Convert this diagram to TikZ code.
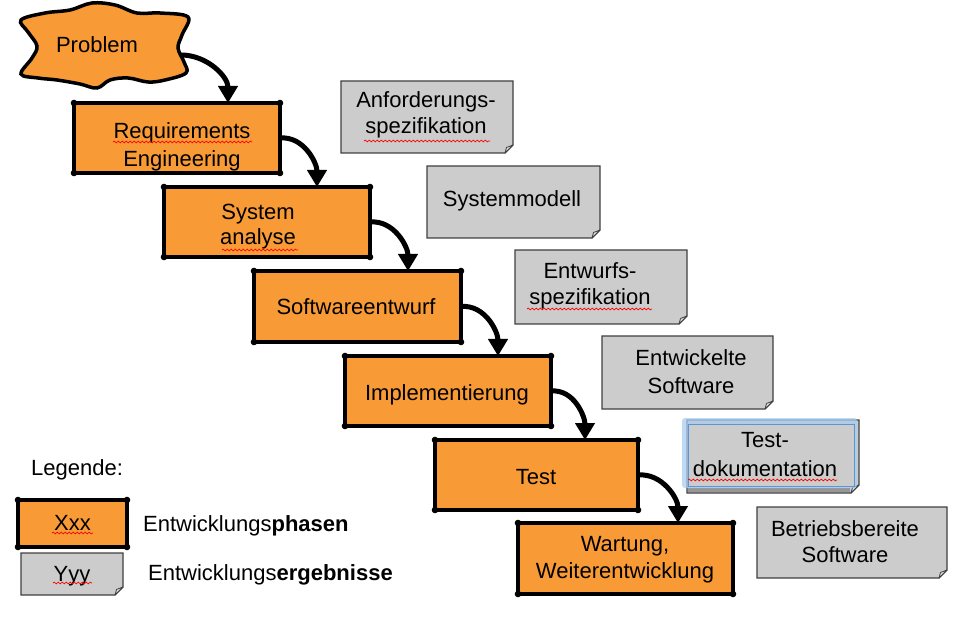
\documentclass[tikz,border=0pt]{standalone}
\usepackage{fontspec}
\setmainfont{Liberation Sans}
\usetikzlibrary{arrows.meta,decorations.pathmorphing}
\definecolor{phaseorange}{RGB}{248,154,54}
\definecolor{docgray}{RGB}{204,204,204}
\definecolor{docline}{RGB}{64,64,64}
\definecolor{docfold}{RGB}{225,225,225}
\definecolor{docdark}{RGB}{150,150,150}
\definecolor{selblue}{RGB}{170,205,240}
\definecolor{selline}{RGB}{90,150,215}
\newcommand\docshape[4]{%
  \path[docbody] (#1,#2) -- (#3,#2) -- (#3,#4-8) -- (#3-8,#4) -- (#1,#4) -- cycle;
  \path[docfoldst] (#3,#4-8) -- (#3-8,#4) -- (#3-6.5,#4-5.5) -- cycle;
}
\begin{document}
\begin{tikzpicture}[x=1pt,y=-1pt,
  txt/.style={font=\fontsize{22}{26}\selectfont, align=center, inner sep=0pt},
  phase/.style={draw=black, line width=4pt, fill=phaseorange, rectangle, outer sep=0pt, inner sep=0pt},
  flow/.style={line width=5pt, -{Triangle[width=19pt,length=17pt]}},
  docbody/.style={fill=docgray, draw=docline, line width=1.2pt},
  docfoldst/.style={fill=docfold, draw=docline, line width=0.8pt, line join=round},
  doctext/.style={txt},
  wavy/.style={draw=red, line width=0.7pt, decorate, decoration={snake, segment length=4pt, amplitude=0.9pt}},
  dot/.style={fill=black}
]
\useasboundingbox (0,0) rectangle (959,628);

% Problem cloud
\filldraw[fill=phaseorange, draw=black, line width=3.5pt]
  plot[smooth cycle, tension=0.6] coordinates {(21,20) (45,13) (70,10) (92,3) (115,5) (137,13) (160,13) (188,17) (182,35) (178,48) (184,62) (186,73) (165,80) (148,82) (128,78) (110,80) (97,88) (80,84) (57,80) (38,78) (21,74) (32,58) (37,46) (28,32)};
\node[txt, anchor=base] (P) at (97,53) {Problem};
\coordinate (Pout) at (181,55);

% phase boxes
\node[phase, minimum width=206pt, minimum height=70pt] (R) at (177,138) {};
\node[phase, minimum width=206pt, minimum height=70pt] (S) at (267,222) {};
\node[phase, minimum width=207pt, minimum height=71pt] (SW) at (357.5,306.5) {};
\node[phase, minimum width=206pt, minimum height=70pt] (I) at (448,391) {};
\node[phase, minimum width=203pt, minimum height=70pt] (T) at (536.5,475) {};
\node[phase, minimum width=215pt, minimum height=71pt] (W) at (625.5,558.5) {};
\node[phase, minimum width=109pt, minimum height=47pt] (LX) at (72.5,523.5) {};

\node[txt, font=\fontsize{22}{28}\selectfont] (Rt) at (182,146.4) {Requirements\\Engineering};
\node[txt, font=\fontsize{22}{25}\selectfont] (St) at (258,227) {System\\analyse};
\node[txt, anchor=base] (SWt) at (356,315) {Softwareentwurf};
\node[txt, anchor=base] (It) at (447,400) {Implementierung};
\node[txt, anchor=base] (Tt) at (536,484) {Test};
\node[txt, font=\fontsize{22}{27}\selectfont] (Wt) at (625,560) {Wartung,\\Weiterentwicklung};
\node[txt, anchor=base] (LXt) at (72.5,530) {Xxx};

\foreach \n in {R,S,SW,I,T,W,LX}
  \foreach \c in {north east,north west,south east,south west}
    \fill[dot] (\n.\c) circle (3.3pt);

% arrows
\draw[flow] (Pout) to[out=0,in=90] ([xshift=-52pt]R.north east);
\draw[flow] (R.east) to[out=5,in=90] ([xshift=-53pt]S.north east);
\draw[flow] (S.east) to[out=5,in=90] ([xshift=-53pt]SW.north east);
\draw[flow] (SW.east) to[out=5,in=90] ([xshift=-53pt]I.north east);
\draw[flow] (I.east) to[out=5,in=90] ([xshift=-53pt]T.north east);
\draw[flow] (T.east) to[out=5,in=90] ([xshift=-55pt]W.north east);

% documents
\docshape{341}{81}{513}{153}
\docshape{427}{166}{600}{238}
\docshape{515}{250}{687}{324}
\docshape{602}{336}{773}{409}
\docshape{687}{420}{859}{493}
\docshape{757}{507}{947}{578}
\docshape{21}{553}{123}{595}

% selection highlight on Test-dokumentation
\fill[docdark] (688,487.5) rectangle (850,492.4);
\fill[selblue, opacity=0.75, even odd rule] [rounded corners=3pt] (682,418) rectangle (857,488) [sharp corners] (688,424) rectangle (854,486);
\draw[selline, line width=0.8pt] (688,424) rectangle (854,486);

\node[doctext] (A) at (426,115) {Anforderungs-\\spezifikation};
\node[doctext, anchor=base] (Sm) at (512,207) {Systemmodell};
\node[doctext] (E) at (590,286) {Entwurfs-\\spezifikation};
\node[doctext, font=\fontsize{22}{28}\selectfont] (EW) at (691,372) {Entwickelte\\Software};
\node[doctext, font=\fontsize{22}{29}\selectfont] (TD) at (765,455) {Test-\\dokumentation};
\node[doctext] (B) at (845,542) {Betriebsbereite\\Software};

% legend
\node[txt, anchor=base west] (LG) at (31,475) {Legende:};
\node[txt, anchor=base] (LY) at (72,581) {Yyy};
\node[txt, anchor=base west] (LP) at (143,531) {Entwicklungs\textbf{phasen}};
\node[txt, anchor=base west] (LE) at (148,580) {Entwicklungs\textbf{ergebnisse}};

% spell-check underlines
\draw[wavy] (113,142) -- (252,142);
\draw[wavy] (222,250) -- (298,250);
\draw[wavy] (364,141) -- (490,141);
\draw[wavy] (527,309) -- (652,309);
\draw[wavy] (688,480) -- (837,480);
\draw[wavy] (52,533) -- (93,533);
\draw[wavy] (53,583) -- (92,583);
\end{tikzpicture}
\end{document}
